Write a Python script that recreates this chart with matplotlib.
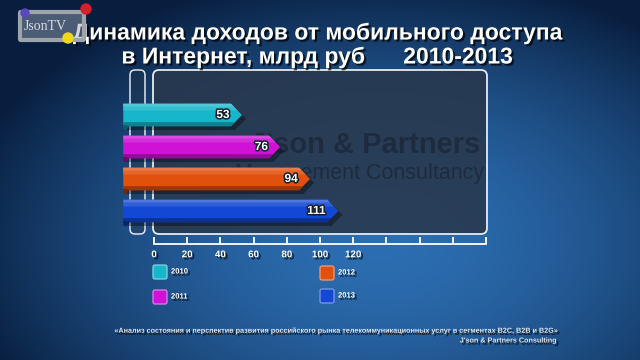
import matplotlib
matplotlib.use('Agg')
import matplotlib.pyplot as plt
import matplotlib.patches as mpatches
import matplotlib.patheffects as pe
import numpy as np

plt.rcParams.update({
    'font.family': ['Liberation Sans', 'DejaVu Sans'],
    'font.size': 9,
})

# ── data ─────────────────────────────────────────────────────────────────────
YEARS = ['2010', '2011', '2012', '2013']
VALUES = [53, 76, 94, 111]
COLORS = ['#18b6ca', '#cf12d6', '#e2500e', '#1248d4']
TICKS = np.arange(0, 201, 20)
TICK_LABELS = [str(t) if t <= 120 else '' for t in TICKS]

TITLE1 = 'Динамика доходов от мобильного доступа'
TITLE2 = 'в Интернет, млрд руб      2010-2013'
FOOT1 = ('«Анализ состояния и перспектив развития российского рынка '
         'телекоммуникационных услуг в сегментах B2C, B2B и B2G»')
FOOT2 = "J'son & Partners Consulting"

W, H = 640, 360
fig = plt.figure(figsize=(6.4, 3.6), dpi=100)

shadow = [pe.SimplePatchShadow(offset=(1.5, -1.5), shadow_rgbFace='black', alpha=0.7), pe.Normal()]


def mix(c, other, t):
    c = np.array(matplotlib.colors.to_rgb(c))
    return tuple(c + (np.array(other) - c) * t)


# ── background (pixel coordinates) ───────────────────────────────────────────
bg = fig.add_axes([0, 0, 1, 1])
bg.set_xlim(0, W)
bg.set_ylim(H, 0)
bg.axis('off')
yy, xx = np.mgrid[0:H, 0:W]
d = np.sqrt(((xx - 380) / 430) ** 2 + ((yy - 240) / 270) ** 2)
d = np.clip(d, 0, 1)
c0 = np.array([0x2c, 0x6e, 0xb2]) / 255
c1 = np.array([0x08, 0x1e, 0x3e]) / 255
img = c0 + (c1 - c0) * (d[..., None] ** 1.7)
bg.imshow(img, extent=(0, W, H, 0), aspect='auto', zorder=0)


def rbox(x0, y0, x1, y1, r=6, **kw):
    p = mpatches.FancyBboxPatch((x0, y0), x1 - x0, y1 - y0,
                                boxstyle=f'round,pad=0,rounding_size={r}', **kw)
    bg.add_patch(p)
    return p


# plot frames
rbox(153, 70, 487, 234, facecolor=(0.16, 0.22, 0.30, 0.88), edgecolor='#e6ebf0', lw=1.3, zorder=1)
rbox(130, 70, 145, 234, r=5, facecolor=(0.14, 0.20, 0.28, 0.35), edgecolor='#dfe5ec', lw=1.1, zorder=1)

# watermark
bg.text(480, 145, "J'son & Partners", ha='right', va='center', fontsize=21,
        fontweight='bold', color='#1b2636', alpha=0.75, zorder=2)
bg.text(484, 173, 'Management Consultancy', ha='right', va='center', fontsize=15.5,
        color='#1b2636', alpha=0.75, zorder=2)

# title
for y, t in [(33, TITLE1), (57, TITLE2)]:
    bg.text(317, y, t, ha='center', va='center', fontsize=16.5, fontweight='bold',
            color='white', path_effects=shadow, zorder=6)

# logo (drawn over the title, as in the original)
rbox(20, 12, 84, 40, r=1, facecolor=(0.62, 0.66, 0.72, 0.45), edgecolor='#9ea4ac', lw=3, zorder=7)
bg.text(24, 27, 'JsonTV', ha='left', va='center', fontsize=10,
        family='Liberation Serif', color='#d6dae2', zorder=8)
for (cx, cy, r, col) in [(25, 13, 4, '#5a48c0'), (86, 9, 5, '#d42028'), (68, 38, 5, '#f0d818')]:
    bg.add_patch(mpatches.Circle((cx, cy), r, color=col, zorder=9))

# legend
LEG_POS = [(160, 272), (160, 297), (327, 273), (327, 296)]
for (lx, ly), yr, col in zip(LEG_POS, YEARS, COLORS):
    rbox(lx - 7, ly - 7, lx + 7, ly + 7, r=2, facecolor=col,
         edgecolor=mix(col, (1, 1, 1), 0.45), lw=0.9, zorder=3)
    bg.text(lx + 11, ly, yr, ha='left', va='center', fontsize=5.5, fontweight='bold',
            color='white', path_effects=shadow, zorder=4)

# footer
bg.text(557, 331, FOOT1, ha='right', va='center', fontsize=5.2, fontweight='bold',
        color='#dfe4ec', path_effects=shadow, zorder=4)
bg.text(557, 341, FOOT2, ha='right', va='center', fontsize=5.2, fontweight='bold',
        color='#dfe4ec', path_effects=shadow, zorder=4)

# ── main axes (data coordinates) ─────────────────────────────────────────────
ax = fig.add_axes([154 / W, 1 - 234 / H, (486 - 154) / W, (234 - 70) / H])
ax.patch.set_visible(False)
ax.set_xlim(0, 200)
ax.set_ylim(3.72, -1.406)
for s in ['top', 'right', 'left']:
    ax.spines[s].set_visible(False)
ax.spines['bottom'].set_position(('outward', 7))
ax.spines['bottom'].set_color('white')
ax.spines['bottom'].set_linewidth(1.3)
ax.set_yticks([])
ax.set_xticks(TICKS)
ax.set_xticklabels(TICK_LABELS)
ax.tick_params(axis='x', direction='in', length=5, width=1.3, color='white',
               labelcolor='white', labelsize=7, pad=4)
for lbl in ax.get_xticklabels():
    lbl.set_fontweight('bold')
    lbl.set_path_effects(shadow)

h = 0.70
x_start = -18.5
tip = 6.6


def right_edge(v, i, y):
    return v - tip * abs(y - i) / (h / 2)


for i, (v, c) in enumerate(zip(VALUES, COLORS)):
    top, bot = i - h / 2, i + h / 2
    # shadow
    sh = [(x_start + 2, top + 0.12), (v - tip + 2.5, top + 0.12), (v + 2.5, i + 0.12),
          (v - tip + 2.5, bot + 0.12), (x_start + 2, bot + 0.12)]
    ax.add_patch(mpatches.Polygon(sh, closed=True, color='black', alpha=0.35,
                                  lw=0, zorder=2, clip_on=False))
    # body
    body = [(x_start, top), (v - tip, top), (v, i), (v - tip, bot), (x_start, bot)]
    ax.add_patch(mpatches.Polygon(body, closed=True, color=c, lw=0, zorder=3, clip_on=False))
    # soft highlight on top
    for frac, amt in [(0.30, 0.12), (0.12, 0.25)]:
        y2 = top + h * frac
        hi = [(x_start, top), (v - tip, top), (right_edge(v, i, y2), y2), (x_start, y2)]
        ax.add_patch(mpatches.Polygon(hi, closed=True, color=mix(c, (1, 1, 1), amt),
                                      lw=0, zorder=4, clip_on=False))
    # darker bottom
    y3 = bot - h * 0.18
    lo = [(x_start, y3), (right_edge(v, i, y3), y3), (v - tip, bot), (x_start, bot)]
    ax.add_patch(mpatches.Polygon(lo, closed=True, color=mix(c, (0, 0, 0), 0.3),
                                  lw=0, zorder=4, clip_on=False))
    # left curl
    curl = [(x_start, bot - 0.05), (x_start + 4, bot), (x_start + 1.5, bot + 0.13), (x_start, bot + 0.1)]
    ax.add_patch(mpatches.Polygon(curl, closed=True, color=mix(c, (0, 0, 0), 0.5),
                                  lw=0, zorder=4, clip_on=False))
    # value label
    ax.text(v - 7.5, i, str(v), ha='right', va='center', fontsize=8.5, fontweight='bold',
            color='white', zorder=6,
            path_effects=[pe.Stroke(linewidth=2.2, foreground='#15202c'), pe.Normal()])

fig.savefig('out.png', dpi=100)
